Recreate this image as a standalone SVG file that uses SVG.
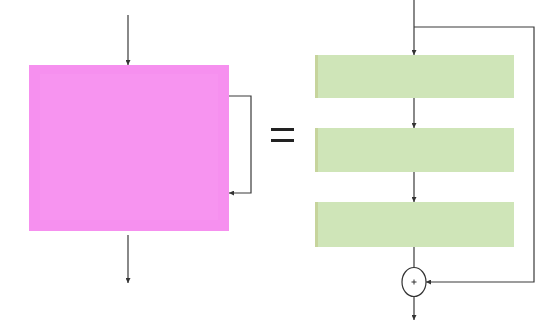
<svg xmlns="http://www.w3.org/2000/svg" width="547" height="324" viewBox="0 0 547 324">
  <defs>
    <marker id="arr" viewBox="0 0 6 6" refX="6" refY="3" markerWidth="5" markerHeight="5" orient="auto" markerUnits="userSpaceOnUse">
      <path d="M0,0 L6,3 L0,6 z" fill="#333"/>
    </marker>
    <style>
      .wire { fill: none; stroke: #3a3a3a; stroke-width: 1.2; }
      .layer { fill: #cfe5b8; }
      .layer-edge { fill: #c6d49c; }
    </style>
  </defs>
  <rect width="547" height="324" fill="#ffffff"/>

  <!-- left: a single block with a skip around it -->
  <g id="block">
    <rect x="29" y="65" width="200" height="166" fill="#f690ef"/>
    <rect x="40" y="74" width="178" height="146" fill="#f794f0"/>
  </g>

  <!-- equals sign -->
  <g id="equals">
    <rect x="271" y="128" width="23" height="3" fill="#222"/>
    <rect x="271" y="139" width="23" height="3" fill="#222"/>
  </g>

  <!-- right: stacked layers -->
  <g id="layer1">
    <rect class="layer" x="315" y="55" width="199" height="43"/>
    <rect class="layer-edge" x="315" y="55" width="3" height="43"/>
  </g>
  <g id="layer2">
    <rect class="layer" x="315" y="128" width="199" height="44"/>
    <rect class="layer-edge" x="315" y="128" width="3" height="44"/>
  </g>
  <g id="layer3">
    <rect class="layer" x="315" y="202" width="199" height="45"/>
    <rect class="layer-edge" x="315" y="202" width="3" height="45"/>
  </g>

  <g id="sum">
    <ellipse cx="414" cy="282" rx="12" ry="14.5" fill="#ffffff" stroke="#333" stroke-width="1.2"/>
    <path d="M411.5,282 H416.5 M414,279.5 V284.5" stroke="#333" stroke-width="1"/>
  </g>

  <g id="connectors">
    <!-- left block -->
    <line class="wire" x1="128" y1="15" x2="128" y2="65" marker-end="url(#arr)"/>
    <line class="wire" x1="128" y1="235" x2="128" y2="283" marker-end="url(#arr)"/>
    <polyline class="wire" points="229,96 251,96 251,193 229,193" marker-end="url(#arr)"/>
    <!-- stacked layers -->
    <line class="wire" x1="414" y1="0" x2="414" y2="55" marker-end="url(#arr)"/>
    <line class="wire" x1="414" y1="98" x2="414" y2="128" marker-end="url(#arr)"/>
    <line class="wire" x1="414" y1="172" x2="414" y2="202" marker-end="url(#arr)"/>
    <line class="wire" x1="414" y1="247" x2="414" y2="267.5"/>
    <polyline class="wire" points="414,27 534,27 534,282 426,282" marker-end="url(#arr)"/>
    <line class="wire" x1="414" y1="296.5" x2="414" y2="320" marker-end="url(#arr)"/>
  </g>
</svg>
